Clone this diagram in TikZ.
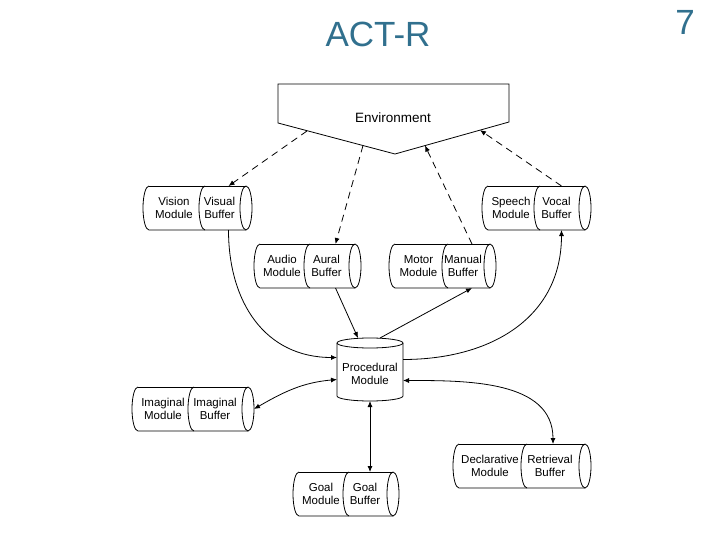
\documentclass[tikz,border=0pt]{standalone}
\usepackage{fontspec}
\setmainfont{Liberation Sans}
\usetikzlibrary{arrows.meta}
\definecolor{titleblue}{RGB}{49,112,142}
\tikzset{
  outline/.style={draw=black, line width=0.8pt},
  lbl/.style={font=\fontsize{11.5}{13}\selectfont, align=center, inner sep=0pt},
  anch/.style={draw=none, inner sep=0pt, outer sep=0pt},
  arr/.style={line width=0.8pt, -{Latex[length=6pt,width=5pt]}},
  darr/.style={line width=0.8pt, {Latex[length=6pt,width=5pt]}-{Latex[length=6pt,width=5pt]}},
  dashedarr/.style={arr, dash pattern=on 7pt off 5pt},
}
\newcommand{\hcylinder}[8]{%
  \pgfmathsetmacro{\cyh}{(#6-#5)/2}%
  \pgfmathsetmacro{\cym}{-(#5+#6)/2}%
  \draw[outline] ({#2+6},{-#5}) arc[start angle=90,end angle=270,x radius=6pt,y radius=\cyh pt] -- ({#4},{-#6});
  \draw[outline] ({#2+6},{-#5}) -- ({#4},{-#5});
  \draw[outline] ({#3},{-#5}) arc[start angle=90,end angle=270,x radius=6pt,y radius=\cyh pt];
  \draw[outline] ({#4},\cym) ellipse[x radius=6pt,y radius=\cyh pt];
  \node[anch, minimum width={(#3-#2)*1pt}, minimum height={2*\cyh pt}] (#1m) at ({(#2+#3)/2},\cym) {};
  \node[lbl] (#1mt) at (#1m) {#7};
  \node[anch, minimum width={(#4+6-#3)*1pt}, minimum height={2*\cyh pt}] (#1b) at ({(#3+#4+6)/2},\cym) {};
  \node[lbl] (#1bt) at ([xshift=-9pt]#1b.center) {#8};
}
\begin{document}
\begin{tikzpicture}[x=1pt,y=1pt]
\useasboundingbox (0,0) rectangle (720,-540);
\fill[white] (0,0) rectangle (720,-540);

% title
\node[font=\fontsize{35}{40}\selectfont, text=titleblue] (title) at (378,-34) {ACT-R};
\node[font=\fontsize{35}{40}\selectfont, text=titleblue] (pnum) at (685,-22) {7};

% environment
\draw[outline] (278,-84) -- (509,-84) -- (509,-122) -- (395,-154) -- (278,-123) -- cycle;
\node[font=\fontsize{13.5}{16}\selectfont] (env) at (393,-118) {Environment};
\coordinate (envA) at (307,-131);
\coordinate (envB) at (363,-145.5);
\coordinate (envC) at (425,-145.6);
\coordinate (envD) at (480,-130.1);

% cylinders
\hcylinder{vis}{143}{205}{246}{186}{230}{Vision\\Module}{Visual\\Buffer}
\hcylinder{aud}{254}{310}{355}{244}{288}{Audio\\Module}{Aural\\Buffer}
\hcylinder{mot}{389}{448}{490}{244}{288}{Motor\\Module}{Manual\\Buffer}
\hcylinder{spe}{482}{540}{585}{186}{230}{Speech\\Module}{Vocal\\Buffer}
\hcylinder{ima}{132}{194}{248}{387}{431}{Imaginal\\Module}{Imaginal\\Buffer}
\hcylinder{goa}{293}{349}{393}{472}{516}{Goal\\Module}{Goal\\Buffer}
\hcylinder{dec}{453}{527}{585}{444}{488}{Declarative\\Module}{Retrieval\\Buffer}

% procedural module
\draw[outline] (337,-343) -- (337,-396) arc[start angle=180,end angle=360,x radius=33pt,y radius=5pt] -- (403,-343);
\draw[outline] (370,-343) ellipse[x radius=33pt,y radius=5pt];
\node[anch, minimum width=66pt, minimum height=63pt] (proc) at (370,-369.5) {};
\node[lbl] (proct) at (370,-374) {Procedural\\Module};

% dashed connectors
\draw[dashedarr] (envA) -- (visb.north);
\draw[dashedarr] (envB) -- (audb.north);
\draw[dashedarr] (motb.north) -- (envC);
\draw[dashedarr] ([xshift=-4pt]speb.north) -- (envD);

% solid connectors
\draw[arr] (visb.south) to[out=-90,in=180,looseness=1.1] ([yshift=12pt]proc.west);
\draw[arr] (audb.south) -- ([xshift=-12pt]proc.north);
\draw[arr] ([xshift=10pt]proc.north) -- (motb.south);
\draw[arr] ([yshift=10pt]proc.east) to[out=0,in=-90,looseness=1.1] ([xshift=-4pt]speb.south);
\draw[darr] ([yshift=-10pt]proc.west) to[out=185,in=30] (imab.east);
\draw[darr] ([yshift=-11pt]proc.east) to[out=0,in=90] ([xshift=-6pt]decb.north);
\draw[darr] (proc.south) -- (proc.south |- goab.north);
\end{tikzpicture}
\end{document}
